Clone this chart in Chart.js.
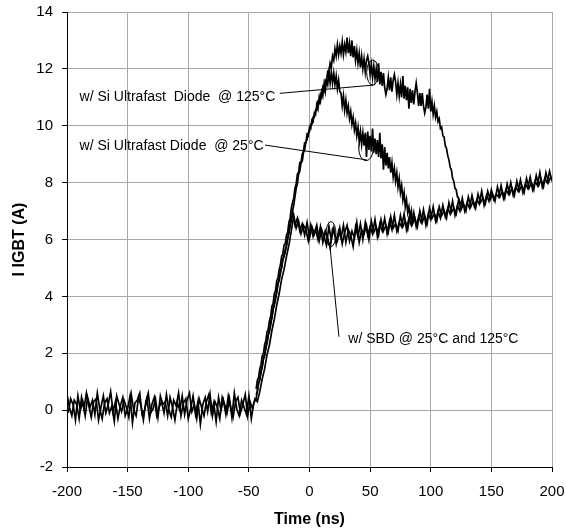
<!DOCTYPE html>
<html>
<head>
<meta charset="utf-8">
<script src="https://cdn.jsdelivr.net/npm/chart.js@4"></script>
<style>
  body { margin: 0; background: #fff; }
  canvas { display: block; }
</style>
</head>
<body>
<canvas id="igbtChart" width="566" height="529"></canvas>
<script>
// x axis ticks (ns) and y axis ticks (A)
const timeTicks = [-200, -150, -100, -50, 0, 50, 100, 150, 200];
const currentTicks = [-2, 0, 2, 4, 6, 8, 10, 12, 14];

// scope samples: every trace is stored from its first sample time with a fixed step
// I IGBT (A) with SBD @ 25°C, -200 ns .. 200 ns, every 2 ns
const sbd25Start = -200, sbd25Step = 2;
const sbd25Current = [
  0.55,0.1,-0.2,0.35,0.2,-0.3,0.45,0.05,0.6,0.15,
  -0.25,0.3,0.4,-0.35,0.1,0.5,-0.1,0.2,0.65,-0.05,
  0.3,-0.3,0.15,0.45,-0.2,0.05,0.5,-0.45,0.25,0.35,
  0.6,-0.15,0.0,0.4,-0.3,0.2,0.45,-0.2,0.1,0.3,
  -0.1,0.55,0.0,-0.25,0.35,0.15,0.6,-0.2,0.25,0.4,
  -0.3,0.05,0.5,-0.15,0.3,-0.5,0.2,0.45,-0.05,0.55,
  -0.2,0.3,0.1,-0.3,0.45,0.2,-0.1,0.4,-0.25,0.6,
  0.05,-0.2,0.35,0.1,-0.15,0.5,-0.3,0.25,
  0.4,0.95,1.3,1.8,2.15,2.65,3.0,3.55,3.9,4.45,4.8,5.3,5.55,6.05,6.45,
  6.95,6.5,6.75,6.3,6.55,6.15,6.6,6.05,6.45,6.2,
  6.5,5.95,6.35,6.1,5.8,6.45,6.0,6.4,5.85,6.3,
  6.05,6.5,5.9,6.35,6.15,5.75,6.45,6.1,6.55,6.0,
  6.6,6.15,6.45,6.2,6.7,6.1,6.55,6.3,6.75,6.2,
  6.65,6.35,6.85,6.3,6.6,6.45,6.9,6.35,6.75,6.5,
  6.95,6.45,6.8,6.6,7.05,6.5,6.9,6.7,7.15,6.65,
  7.0,6.75,7.2,6.8,7.1,6.9,7.35,6.85,7.2,7.0,
  7.45,7.0,7.3,7.1,7.55,7.15,7.4,7.25,7.7,7.2,
  7.55,7.35,7.75,7.4,7.6,7.5,7.9,7.45,7.75,7.6,
  8.0,7.55,7.85,7.7,8.1,7.65,7.95,7.8,8.2,7.75,
  8.05,7.9,8.35,7.85,8.15,8.0,8.4,8.05
];

// I IGBT (A) with SBD @ 125°C, -199 ns .. 199 ns, every 2 ns
const sbd125Start = -199, sbd125Step = 2;
const sbd125Current = [
  -0.1,0.4,0.2,-0.35,0.5,0.0,0.3,-0.2,0.45,0.1,
  0.35,-0.15,0.6,0.05,-0.3,0.25,0.4,-0.1,0.15,-0.4,
  0.5,0.2,-0.05,0.35,0.1,-0.25,0.55,0.0,-0.2,0.45,
  0.15,-0.35,0.3,0.6,-0.1,0.05,0.4,-0.25,0.5,0.2,
  0.3,-0.2,0.45,0.1,-0.35,0.25,0.0,0.5,-0.15,0.35,
  0.6,-0.05,0.2,-0.3,0.4,0.1,-0.2,0.3,0.55,-0.1,
  0.25,-0.4,0.45,0.0,0.35,-0.15,0.5,0.1,-0.25,0.3,
  0.45,-0.1,0.2,0.55,-0.2,0.3,0.05,0.4,
  0.3,0.65,1.1,1.45,1.95,2.3,2.8,3.2,3.7,4.1,4.6,4.95,5.4,5.8,
  6.3,6.85,6.4,6.65,6.2,6.5,6.35,5.95,6.5,6.1,
  6.35,6.0,6.45,5.9,6.3,6.05,5.7,6.35,6.15,5.95,
  6.4,5.85,6.25,6.5,5.95,6.3,6.05,6.6,5.9,6.35,
  6.2,6.5,6.0,6.65,6.25,6.45,6.15,6.7,6.3,6.5,
  6.25,6.8,6.4,6.55,6.3,6.85,6.45,6.65,6.35,6.9,
  6.55,6.75,6.45,7.0,6.6,6.85,6.55,7.1,6.75,6.9,
  6.65,7.15,6.85,7.0,6.75,7.3,6.95,7.1,6.9,7.4,
  7.05,7.25,7.0,7.5,7.15,7.35,7.1,7.6,7.3,7.45,
  7.25,7.7,7.4,7.6,7.35,7.85,7.5,7.7,7.45,7.95,
  7.6,7.8,7.55,8.05,7.7,7.9,7.65,8.15,7.8,8.0,
  7.75,8.25,7.9,8.1,7.85,8.35,8.0,8.2
];

// I IGBT (A) with Si ultrafast diode @ 25°C, -44 ns .. 86 ns, every 1 ns
const si25Start = -44, si25Step = 1;
const si25Current = [
  0.75,1.05,1.15,1.45,1.6,1.9,2.0,2.3,2.45,2.75,
  2.85,3.15,3.3,3.65,3.75,4.1,4.2,4.55,4.65,4.95,
  5.1,5.4,5.5,5.8,5.85,6.15,6.25,6.6,6.75,7.1,
  7.3,7.45,7.8,7.95,8.3,8.35,8.7,8.7,9.0,9.1,
  9.4,9.4,9.7,9.65,9.95,9.9,10.2,10.15,10.45,10.4,
  10.75,10.6,11.0,10.85,11.2,11.05,11.45,11.2,11.6,11.45,
  11.85,11.5,11.9,11.5,11.85,11.45,11.75,11.3,11.6,11.2,
  11.15,10.7,11.05,10.55,10.9,10.45,10.7,10.25,10.5,10.05,
  10.3,9.85,10.1,9.65,9.95,9.45,9.8,9.35,9.75,9.3,
  9.75,8.9,9.8,9.15,9.65,9.1,9.9,9.05,9.55,9.0,
  9.5,8.9,9.75,8.85,9.35,8.45,9.25,8.6,9.05,8.5,
  8.9,8.35,8.7,8.2,8.5,8.05,8.35,7.85,8.15,7.65,
  7.9,7.4,7.65,7.15,7.4,6.95,7.15,6.75,7.0,6.6,
  6.75
];

// I IGBT (A) with Si ultrafast diode @ 125°C, -44 ns .. 126 ns, every 1 ns
const si125Start = -44, si125Step = 1;
const si125Current = [
  0.55,0.65,0.95,1.05,1.4,1.5,1.8,1.9,2.25,2.35,
  2.65,2.75,3.1,3.25,3.55,3.7,4.0,4.15,4.45,4.55,
  4.9,5.0,5.3,5.4,5.65,5.75,6.05,6.2,6.55,6.7,
  7.0,7.2,7.5,7.8,7.95,8.3,8.4,8.7,8.75,9.05,
  9.15,9.45,9.5,9.75,9.8,10.05,10.05,10.3,10.3,10.55,
  10.55,10.85,10.8,11.1,11.0,11.35,11.25,11.6,11.55,11.9,
  11.85,12.2,12.05,12.45,12.3,12.7,12.45,12.85,12.5,12.8,
  12.55,12.95,12.5,12.85,12.6,13.1,12.55,12.9,12.45,13.0,
  12.4,12.8,12.3,12.65,12.2,12.55,12.05,12.45,12.0,12.35,
  11.9,12.3,12.45,12.2,11.8,12.15,11.7,12.1,11.65,12.0,
  11.55,12.2,11.45,11.9,11.4,11.85,11.35,11.1,11.3,11.7,
  11.25,11.7,11.2,11.6,11.8,11.55,11.1,11.5,11.05,11.45,
  11.0,11.75,10.95,11.4,10.9,11.35,10.6,11.3,10.8,11.25,
  10.75,11.2,11.5,11.15,10.7,11.15,10.7,11.15,10.7,10.45,
  10.65,11.1,10.6,11.3,10.5,10.85,10.4,10.7,10.3,10.5,
  10.15,10.25,9.9,9.95,9.65,9.6,9.3,9.2,8.95,8.8,
  8.55,8.45,8.15,8.05,7.8,7.75,7.5,7.45,7.3,7.3,
  7.2
];

// callout texts, leader lines and rings (data coordinates: ns, A)
const calloutTexts = [
  { text: "w/ Si Ultrafast  Diode  @ 125°C", t: -189.6, i: 11.0 },
  { text: "w/ Si Ultrafast Diode  @ 25°C", t: -189.6, i: 9.27 },
  { text: "w/ SBD @ 25°C and 125°C", t: 32, i: 2.5 }
];
const leaderLines = [
  { from: [-24.5, 11.14], to: [52.6, 11.43] },
  { from: [-36.7, 9.32], to: [47.2, 8.8] },
  { from: [24.3, 2.58], to: [16.9, 5.75] }
];
const markerRings = [
  { t: 52.1, i: 11.87 },
  { t: 46.6, i: 9.21 },
  { t: 17.7, i: 6.19 }
];
const ringRadii = [[6, 12.5], [7.3, 12.5], [5, 12.5]];

function toPoints(values, start, step) {
    return values.map((v, k) => ({ x: start + k * step, y: v }));
}

const fontFamily = "'Liberation Sans', Arial, sans-serif";

const calloutPlugin = {
    id: "callouts",
    afterDatasetsDraw(chart) {
        const ctx = chart.ctx;
        const xs = chart.scales.x;
        const ys = chart.scales.y;
        ctx.save();
        ctx.strokeStyle = "#000";
        ctx.lineWidth = 1;
        leaderLines.forEach(l => {
            ctx.beginPath();
            ctx.moveTo(xs.getPixelForValue(l.from[0]), ys.getPixelForValue(l.from[1]));
            ctx.lineTo(xs.getPixelForValue(l.to[0]), ys.getPixelForValue(l.to[1]));
            ctx.stroke();
        });
        markerRings.forEach((r, k) => {
            ctx.beginPath();
            ctx.ellipse(xs.getPixelForValue(r.t), ys.getPixelForValue(r.i),
                ringRadii[k][0], ringRadii[k][1], 0, 0, Math.PI * 2);
            ctx.stroke();
        });
        ctx.fillStyle = "#000";
        ctx.font = "14px " + fontFamily;
        ctx.textBaseline = "middle";
        ctx.textAlign = "left";
        calloutTexts.forEach(a => {
            ctx.fillText(a.text, xs.getPixelForValue(a.t), ys.getPixelForValue(a.i));
        });
        ctx.restore();
    }
};

const traceStyle = {
    borderColor: "#000",
    backgroundColor: "#000",
    borderWidth: 1.7,
    pointRadius: 0,
    tension: 0,
    fill: false
};

const igbtChart = new Chart(document.getElementById("igbtChart"), {
    type: "line",
    data: {
        datasets: [
            { label: "SBD 25°C", data: toPoints(sbd25Current, sbd25Start, sbd25Step), ...traceStyle },
            { label: "SBD 125°C", data: toPoints(sbd125Current, sbd125Start, sbd125Step), ...traceStyle },
            { label: "Si 25°C", data: toPoints(si25Current, si25Start, si25Step), ...traceStyle },
            { label: "Si 125°C", data: toPoints(si125Current, si125Start, si125Step), ...traceStyle }
        ]
    },
    options: {
        responsive: false,
        animation: false,
        layout: { padding: { left: 0, right: 14, top: 12, bottom: 0 } },
        plugins: {
            legend: { display: false },
            tooltip: { enabled: false }
        },
        scales: {
            x: {
                type: "linear",
                min: timeTicks[0],
                max: timeTicks[timeTicks.length - 1],
                afterBuildTicks(scale) { scale.ticks = timeTicks.map(v => ({ value: v })); },
                ticks: { color: "#000", padding: 11, font: { family: fontFamily, size: 15 } },
                grid: { color: "#a8a8a8", tickColor: "#000", tickLength: 5 },
                border: { color: "#000", width: 1 },
                title: {
                    display: true,
                    text: "Time (ns)",
                    color: "#000",
                    padding: { top: 0, bottom: 0 },
                    font: { family: fontFamily, size: 16, weight: "bold" }
                },
                afterFit(scale) {
                    scale.height = 62;
                    scale.paddingLeft = 0;
                    scale.paddingRight = 0;
                }
            },
            y: {
                min: currentTicks[0],
                max: currentTicks[currentTicks.length - 1],
                afterBuildTicks(scale) { scale.ticks = currentTicks.map(v => ({ value: v })); },
                ticks: { color: "#000", padding: 9, font: { family: fontFamily, size: 15 } },
                grid: { color: "#a8a8a8", tickColor: "#000", tickLength: 5 },
                border: { color: "#000", width: 1 },
                title: {
                    display: true,
                    text: "I IGBT (A)",
                    color: "#000",
                    padding: { top: 10, bottom: 0 },
                    font: { family: fontFamily, size: 16, weight: "bold" }
                },
                afterFit(scale) {
                    scale.width = 67;
                    scale.paddingTop = 0;
                    scale.paddingBottom = 0;
                }
            }
        }
    },
    plugins: [calloutPlugin]
});
</script>
</body>
</html>
